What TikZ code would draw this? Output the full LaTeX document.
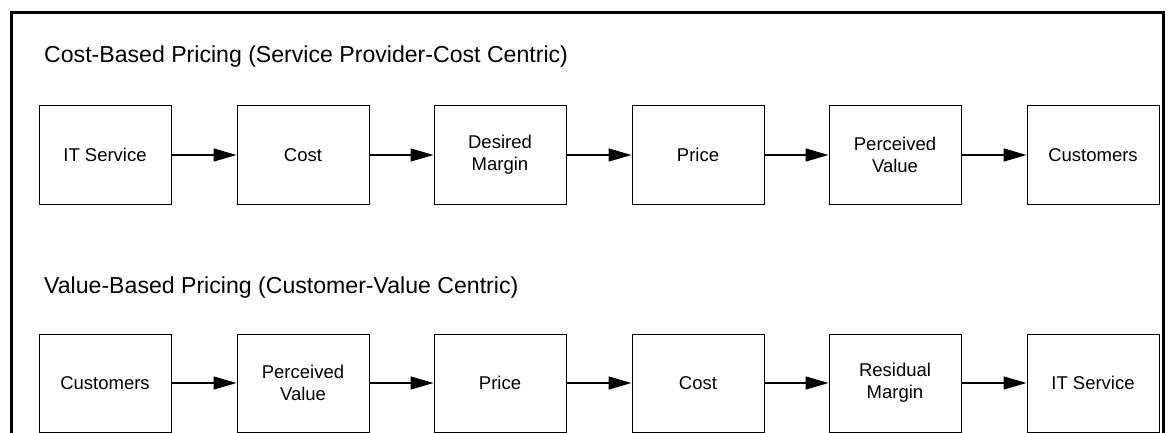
\documentclass[tikz,border=0pt]{standalone}
\usepackage{fontspec}
\setmainfont{Liberation Sans}
\usetikzlibrary{arrows.meta}
\tikzset{
  stage/.style={draw=black, line width=1pt, minimum width=132pt, minimum height=98pt,
    inner sep=2pt, align=center, font=\fontsize{18.5}{22}\selectfont},
  heading/.style={anchor=base west, inner sep=0pt, font=\fontsize{23.1}{27}\selectfont},
  flow/.style={-{Triangle[length=23pt,width=13pt]}, line width=1.5pt},
  frameline/.style={line width=3pt}
}
\begin{document}
\begin{tikzpicture}[x=1pt,y=-1pt]
\useasboundingbox (0,0) rectangle (1170,433);
% outer frame (open at the bottom)
\coordinate (fbl) at (11.5,440);
\coordinate (ftl) at (11.5,12.5);
\coordinate (ftr) at (1163,12.5);
\coordinate (fbr) at (1163,440);
\draw[frameline] (fbl) -- (ftl) -- (ftr) -- (fbr);

% cost-based chain
\node[heading] (t1) at (44,63) {Cost-Based Pricing (Service Provider-Cost Centric)};
\node[stage] (a1) at (105,155) {IT Service};
\node[stage] (a2) at (303,155) {Cost};
\node[stage] (a3) at (500,155) {Desired\\Margin};
\node[stage] (a4) at (698,155) {Price};
\node[stage] (a5) at (895,155) {Perceived\\Value};
\node[stage] (a6) at (1093,155) {Customers};
\foreach \p/\q in {a1/a2,a2/a3,a3/a4,a4/a5,a5/a6}
  \draw[flow] (\p.east) -- (\q.west);

% value-based chain
\node[heading] (t2) at (44,293) {Value-Based Pricing (Customer-Value Centric)};
\node[stage] (b1) at (105,383) {Customers};
\node[stage] (b2) at (303,383) {Perceived\\Value};
\node[stage] (b3) at (500,383) {Price};
\node[stage] (b4) at (698,383) {Cost};
\node[stage] (b5) at (895,383) {Residual\\Margin};
\node[stage] (b6) at (1093,383) {IT Service};
\foreach \p/\q in {b1/b2,b2/b3,b3/b4,b4/b5,b5/b6}
  \draw[flow] (\p.east) -- (\q.west);
\end{tikzpicture}
\end{document}
